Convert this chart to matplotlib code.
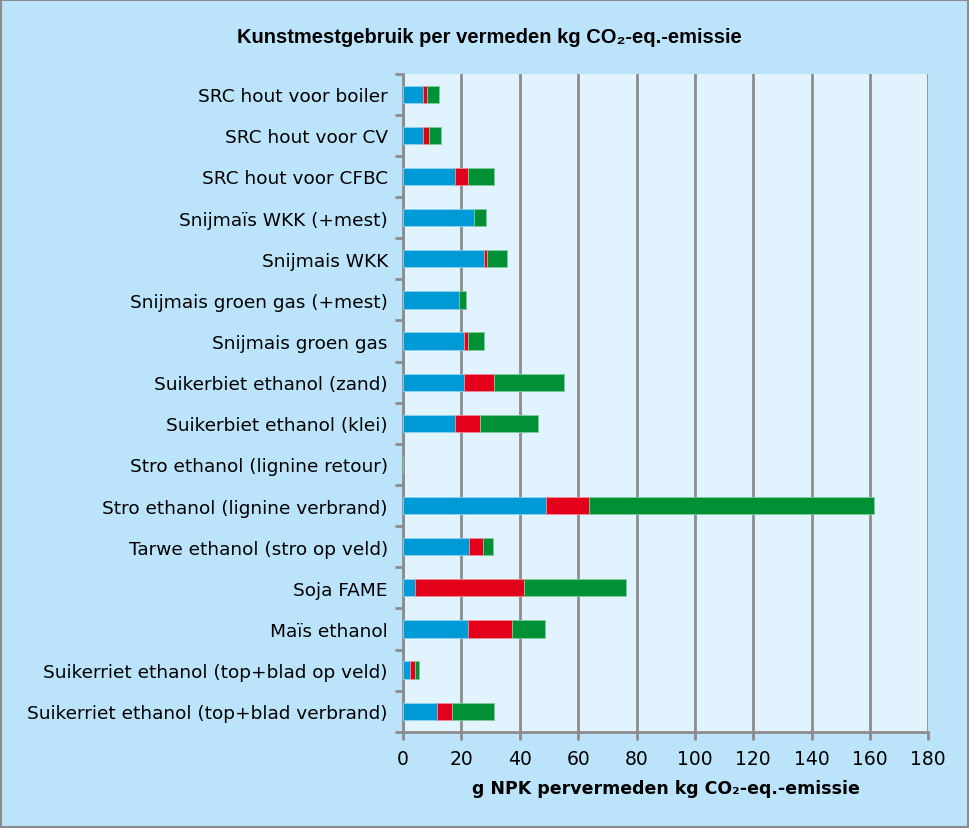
import matplotlib.pyplot as plt
import numpy as np

categories = [
    "SRC hout voor boiler",
    "SRC hout voor CV",
    "SRC hout voor CFBC",
    "Snijmaïs WKK (+mest)",
    "Snijmais WKK",
    "Snijmais groen gas (+mest)",
    "Snijmais groen gas",
    "Suikerbiet ethanol (zand)",
    "Suikerbiet ethanol (klei)",
    "Stro ethanol (lignine retour)",
    "Stro ethanol (lignine verbrand)",
    "Tarwe ethanol (stro op veld)",
    "Soja FAME",
    "Maïs ethanol",
    "Suikerriet ethanol (top+blad op veld)",
    "Suikerriet ethanol (top+blad verbrand)",
]

# segment values (g NPK per kg CO2-eq.)
blue = [6.9, 6.9, 17.7, 24.4, 27.7, 19.0, 21.0, 21.0, 17.7, 0, 49.1, 22.7, 4.2, 22.2, 2.3, 11.5]
red = [1.3, 2.0, 4.6, 0.0, 1.2, 0.0, 1.3, 10.0, 8.6, 0, 14.6, 4.6, 37.2, 15.2, 1.9, 5.4]
green = [4.0, 4.0, 8.7, 3.9, 6.7, 2.6, 5.3, 24.0, 20.0, 0, 97.8, 3.5, 35.1, 11.2, 1.3, 14.4]

xticks = [0, 20, 40, 60, 80, 100, 120, 140, 160, 180]

blue = np.array(blue)
red = np.array(red)
green = np.array(green)

fig = plt.figure(figsize=(9.69, 8.29), dpi=100, facecolor='#BBE4FB')
fig.patches.append(plt.Rectangle((0.001, 0.001), 0.998, 0.998, transform=fig.transFigure,
                                 fill=False, edgecolor='#8C8C8C', linewidth=1.5))
ax = fig.add_axes([0.416, 0.116, 0.542, 0.794])
ax.set_facecolor('#E1F3FE')

y = np.arange(len(categories))
h = 0.42
ax.barh(y, blue, height=h, color='#009AD7', edgecolor='#8FD3EE', linewidth=0.6, zorder=3)
ax.barh(y, red, left=blue, height=h, color='#E2001A', edgecolor='#F08A95', linewidth=0.6, zorder=3)
ax.barh(y, green, left=blue + red, height=h, color='#009036', edgecolor='#7FCB9B', linewidth=0.6, zorder=3)

ax.set_xlim(0, 180)
ax.set_ylim(len(categories) - 0.5, -0.5)
ax.set_xticks(xticks)
ax.set_xticklabels([str(t) for t in xticks], fontsize=13.5, family='DejaVu Sans')
ax.set_yticks(y)
ax.set_yticklabels(categories, fontsize=13.3, family='DejaVu Sans')
ax.tick_params(axis='y', length=0, pad=11)
ax.set_yticks(np.arange(-0.5, len(categories), 1), minor=True)
ax.tick_params(axis='y', which='minor', length=6, color='#8C8C8C', width=2)
ax.tick_params(axis='x', length=6, color='#8C8C8C', width=2, pad=6)

ax.grid(axis='x', color='#8C8C8C', linewidth=2, zorder=1)
for s in ['top', 'right']:
    ax.spines[s].set_visible(False)
ax.spines['left'].set_color('#8C8C8C')
ax.spines['left'].set_linewidth(2)
ax.spines['bottom'].set_color('#8C8C8C')
ax.spines['bottom'].set_linewidth(2)
ax.set_axisbelow(True)

ax.set_xlabel("g NPK pervermeden kg CO\u2082-eq.-emissie", fontsize=12.5, fontweight='bold',
              family='DejaVu Sans', labelpad=8)
fig.text(0.505, 0.955, "Kunstmestgebruik per vermeden kg CO\u2082-eq.-emissie", ha='center', va='center',
         fontsize=14.5, fontweight='bold', family='Liberation Sans')

fig.savefig('out.png', dpi=100, facecolor=fig.get_facecolor())
